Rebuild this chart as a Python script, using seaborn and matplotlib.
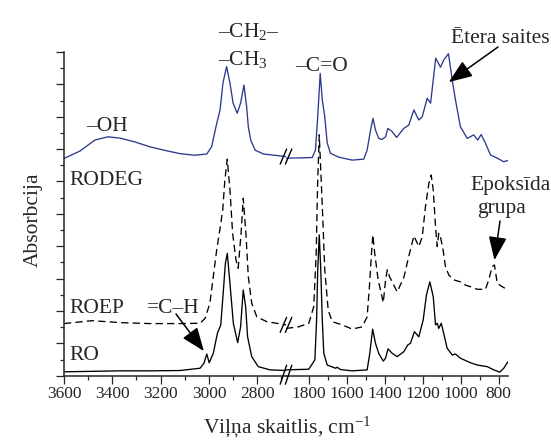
import numpy as np
import pandas as pd
import matplotlib
matplotlib.use("Agg")
import matplotlib.pyplot as plt
import seaborn as sns
from matplotlib.lines import Line2D

# ---------------- data (wavenumber, cm-1 ; absorbance, arb. units) ----------------
# high-wavenumber segment (3600 - 2680)
rodeg_hi_wn = [3600, 3534, 3472, 3418, 3368, 3306, 3244, 3182, 3120, 3058, 3009, 2989, 2971,
               2954, 2942, 2927, 2913, 2900, 2883, 2869, 2855, 2844, 2837, 2827, 2809, 2775,
               2706, 2681]
rodeg_hi_ab = [6.71, 6.94, 7.28, 7.38, 7.34, 7.22, 7.07, 6.96, 6.86, 6.81, 6.85, 7.07, 7.69,
               8.21, 9.04, 9.55, 9.04, 8.42, 8.11, 8.42, 8.98, 8.31, 7.69, 7.28, 6.97, 6.85,
               6.79, 6.77]

roep_hi_wn = [3600, 3534, 3484, 3368, 3244, 3120, 3037, 3016, 2996, 2982, 2968, 2954, 2943,
              2934, 2924, 2913, 2902, 2888, 2879, 2867, 2858, 2847, 2837, 2823, 2802, 2761,
              2720, 2681]
roep_hi_ab = [1.61, 1.66, 1.70, 1.64, 1.61, 1.61, 1.62, 1.77, 2.24, 3.06, 3.88, 4.55, 5.12,
              6.05, 6.69, 5.74, 4.40, 3.57, 3.32, 4.40, 5.48, 4.40, 3.06, 2.24, 1.82, 1.67,
              1.62, 1.57]

ro_hi_wn = [3600, 3368, 3244, 3120, 3037, 3021, 3009, 2999, 2982, 2965, 2951, 2940, 2932,
            2924, 2913, 2899, 2881, 2869, 2858, 2848, 2840, 2823, 2796, 2747, 2681]
ro_hi_ab = [0.12, 0.15, 0.15, 0.16, 0.23, 0.38, 0.67, 0.40, 0.69, 1.31, 1.57, 2.65, 3.47,
            3.78, 2.85, 1.62, 1.02, 1.51, 2.65, 2.13, 1.20, 0.59, 0.28, 0.18, 0.16]

# low-wavenumber segment (1920 - 750)
rodeg_lo_wn = [1920, 1844, 1782, 1765, 1753, 1740, 1729, 1716, 1703, 1686, 1642, 1572, 1511,
               1493, 1475, 1462, 1449, 1432, 1414, 1396, 1384, 1361, 1338, 1300, 1274, 1247,
               1221, 1203, 1177, 1159, 1132, 1107, 1090, 1065, 1045, 1028, 1002, 966, 932,
               911, 893, 870, 844, 808, 774, 752]
rodeg_lo_ab = [6.72, 6.73, 6.74, 6.97, 8.00, 9.34, 8.52, 8.00, 7.19, 6.87, 6.75, 6.66, 6.69,
               6.97, 7.59, 7.95, 7.59, 7.33, 7.30, 7.38, 7.64, 7.54, 7.36, 7.64, 7.74, 8.21,
               7.90, 8.00, 8.57, 8.42, 9.81, 9.53, 9.75, 9.95, 9.13, 8.52, 7.69, 7.33, 7.44,
               7.28, 7.45, 7.18, 6.82, 6.72, 6.61, 6.65]

roep_lo_wn = [1920, 1853, 1800, 1774, 1761, 1754, 1745, 1737, 1726, 1716, 1698, 1677, 1624,
              1572, 1519, 1493, 1481, 1470, 1463, 1453, 1435, 1408, 1396, 1387, 1375, 1361,
              1335, 1300, 1274, 1247, 1221, 1203, 1186, 1168, 1156, 1145, 1133, 1124, 1116,
              1107, 1093, 1081, 1063, 1037, 1002, 976, 949, 914, 870, 853, 835, 823, 808,
              782, 752]
roep_lo_ab = [1.46, 1.51, 1.62, 2.13, 3.78, 5.84, 7.44, 6.35, 4.81, 3.27, 2.03, 1.67, 1.57,
              1.44, 1.51, 1.82, 2.75, 3.78, 4.35, 3.78, 2.96, 2.26, 2.96, 3.27, 3.06, 2.90,
              2.59, 3.03, 3.68, 4.32, 3.99, 4.29, 5.22, 5.94, 6.20, 5.74, 4.60, 3.99, 4.40,
              4.29, 3.88, 3.37, 3.11, 2.96, 2.90, 2.80, 2.75, 2.67, 2.67, 2.96, 3.37, 3.42,
              2.85, 2.75, 2.65]

ro_lo_wn = [1920, 1800, 1768, 1759, 1753, 1745, 1737, 1729, 1721, 1703, 1659, 1651, 1633,
            1572, 1493, 1479, 1464, 1449, 1432, 1408, 1396, 1383, 1361, 1335, 1300, 1279,
            1265, 1244, 1221, 1198, 1181, 1163, 1145, 1133, 1124, 1116, 1103, 1090, 1072,
            1045, 1028, 1002, 949, 914, 861, 826, 795, 774, 752]
ro_lo_ab = [0.18, 0.20, 0.49, 1.72, 3.27, 4.35, 3.27, 1.72, 0.69, 0.33, 0.23, 0.26, 0.19,
            0.15, 0.18, 0.69, 1.44, 1.00, 0.69, 0.45, 0.54, 0.83, 0.69, 0.59, 0.74, 0.95,
            1.00, 1.36, 1.20, 1.72, 2.49, 2.90, 2.44, 1.57, 1.62, 1.46, 1.62, 1.31, 0.85,
            0.64, 0.67, 0.54, 0.40, 0.33, 0.28, 0.18, 0.11, 0.23, 0.43]

hi_ticks = [3600, 3400, 3200, 3000, 2800]
lo_ticks = [1800, 1600, 1400, 1200, 1000, 800]

# ---------------- style ----------------
sns.set_style("ticks")
plt.rcParams['font.family'] = ['Liberation Serif', 'DejaVu Serif']
plt.rcParams['mathtext.fontset'] = 'custom'
plt.rcParams['mathtext.rm'] = 'Liberation Serif'
plt.rcParams['mathtext.it'] = 'Liberation Serif:italic'
plt.rcParams['mathtext.default'] = 'rm'

W, H = 551, 447
fig = plt.figure(figsize=(W / 100, H / 100), dpi=100)
fig.patch.set_facecolor('white')


def fx(px):
    return px / W


def fy(py):
    return 1 - py / H


AX_TOP, AX_BOT = 52, 375.7
XL0, XB, XR1 = 64, 286, 508.3
axL = fig.add_axes([fx(XL0), fy(AX_BOT), fx(XB) - fx(XL0), fy(AX_TOP) - fy(AX_BOT)])
axR = fig.add_axes([fx(XB), fy(AX_BOT), fx(XR1) - fx(XB), fy(AX_TOP) - fy(AX_BOT)])

NAVY = '#2b3a8c'
LW = 0.95

for ax, seg in ((axL, 'hi'), (axR, 'lo')):
    if seg == 'hi':
        series = [(rodeg_hi_wn, rodeg_hi_ab, NAVY, '-'),
                  (roep_hi_wn, roep_hi_ab, 'black', '--'),
                  (ro_hi_wn, ro_hi_ab, 'black', '-')]
    else:
        series = [(rodeg_lo_wn, rodeg_lo_ab, NAVY, '-'),
                  (roep_lo_wn, roep_lo_ab, 'black', '--'),
                  (ro_lo_wn, ro_lo_ab, 'black', '-')]
    for wn, ab, col, ls in series:
        df = pd.DataFrame({'wn': wn, 'ab': ab})
        sns.lineplot(data=df, x='wn', y='ab', ax=ax, color=col, linewidth=LW,
                     sort=False, estimator=None)
        line = ax.lines[-1]
        if ls == '--':
            line.set_linestyle((0, (5.5, 3.2)))
    ax.set_ylim(0, 10)
    ax.set_xlabel('')
    ax.set_ylabel('')
    ax.set_facecolor('none')
    for s in ('top', 'right'):
        ax.spines[s].set_visible(False)
    ax.spines['bottom'].set_linewidth(1.1)
    ax.spines['left'].set_linewidth(1.1)
    ax.tick_params(axis='x', which='major', direction='out', length=5.5, width=0.9,
                   labelsize=12.5, pad=2)
    ax.tick_params(axis='x', which='minor', direction='out', length=3, width=0.9)

axL.set_xlim(3600, 2681)
axR.set_xlim(1920, 750)
axL.set_xticks(hi_ticks)
axL.set_xticklabels([str(t) for t in hi_ticks])
axL.set_xticks([3500, 3300, 3100, 2900, 2700], minor=True)
axR.set_xticks(lo_ticks)
axR.set_xticklabels([str(t) for t in lo_ticks])
axR.set_xticks([1700, 1500, 1300, 1100, 900], minor=True)

axL.set_yticks(np.arange(0, 10.01, 1))
axL.set_yticks(np.arange(0.5, 10, 1), minor=True)
axL.tick_params(axis='y', which='major', direction='out', length=5.5, width=0.9, labelleft=False)
axL.tick_params(axis='y', which='minor', direction='out', length=3, width=0.9)
axR.spines['left'].set_visible(False)
axR.tick_params(axis='y', which='both', left=False, labelleft=False)


# ---------------- axis-break marks ----------------
def ypix(ax, wn, ab):
    return H - ax.transData.transform((wn, ab))[1]


def brk(yc, half=8.0, lw=1.0):
    for dx in (-2.6, 2.6):
        x0, x1 = XB + dx - 3.2, XB + dx + 3.2
        fig.add_artist(Line2D([fx(x0), fx(x1)], [fy(yc + half), fy(yc - half)],
                              transform=fig.transFigure, color='black', lw=lw))


brk(ypix(axL, rodeg_hi_wn[-1], rodeg_hi_ab[-1]), half=7.5)
brk(ypix(axL, roep_hi_wn[-1], roep_hi_ab[-1]), half=7.5)
brk(AX_BOT - 1, half=9.5)


# ---------------- texts ----------------
def txt(px, py, s, ha='left', size=15.5, **kw):
    fig.text(fx(px), fy(py), s, ha=ha, va='baseline', fontsize=size, **kw)


txt(218, 37, '–CH$_2$–')
txt(218, 65, '–CH$_3$')
txt(86, 131, '–OH')
txt(69, 185, 'RODEG')
txt(295, 71, '–C=O')
txt(451, 43, 'Ētera saites')
txt(511, 190, 'Epoksīda', ha='center')
txt(502, 213, 'grupa', ha='center')
txt(69, 313, 'ROEP')
txt(147, 313, '=C–H')
txt(69, 360, 'RO')

fig.text(fx(33), fy(220), 'Absorbcija', rotation=90, ha='center', va='center', fontsize=15.5)
fig.text(fx(287), fy(433), 'Viļņa skaitlis, cm$^{-1}$', ha='center', va='baseline', fontsize=15.5)

# ---------------- arrows ----------------
arrow_kw = dict(arrowstyle='-|>,head_length=0.85,head_width=0.33', color='black', lw=1.1,
                shrinkA=0, shrinkB=0, mutation_scale=17)
axR.annotate('', xy=(1063, 9.07), xycoords='data', xytext=(fx(498), fy(47)),
             textcoords='figure fraction', arrowprops=arrow_kw, annotation_clip=False)
axR.annotate('', xy=(823, 3.57), xycoords='data', xytext=(fx(500), fy(221)),
             textcoords='figure fraction', arrowprops=arrow_kw, annotation_clip=False)
axL.annotate('', xy=(3021, 0.76), xycoords='data', xytext=(fx(176), fy(314)),
             textcoords='figure fraction', arrowprops=arrow_kw, annotation_clip=False)

fig.savefig('out.png', dpi=100)
